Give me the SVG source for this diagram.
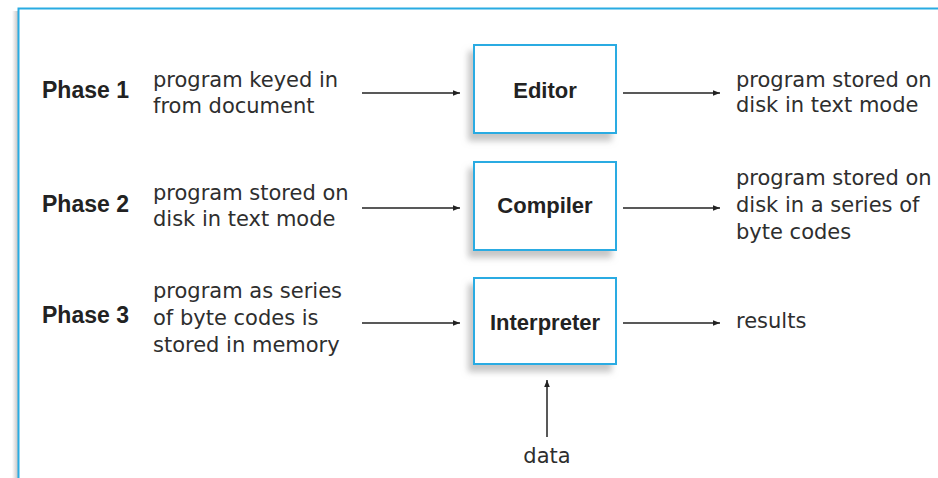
<svg xmlns="http://www.w3.org/2000/svg" width="938" height="478" viewBox="0 0 938 478">
<style>
.t{font-family:"DejaVu Sans",sans-serif;font-size:21px;fill:#2e2e2e}
.b{font-family:"Liberation Sans",Arial,sans-serif;font-size:22px;font-weight:bold;fill:#222}
.p{font-size:23px}
.box{fill:#fff;stroke:#29abe2;stroke-width:2}
.c{stroke:#222;stroke-width:1.5;fill:none;marker-end:url(#ah)}
</style>
<defs>
<marker id="ah" viewBox="0 0 10 10" refX="10" refY="5" markerWidth="8" markerHeight="7" markerUnits="userSpaceOnUse" orient="auto">
<path d="M0,1 L10,5 L0,9 z" fill="#222"/>
</marker>
<filter id="sh" x="-20%" y="-20%" width="140%" height="150%">
<feDropShadow dx="-5" dy="7" stdDeviation="3" flood-color="#999" flood-opacity="0.55"/>
</filter>
<linearGradient id="fg" x1="0" x2="1" y1="0" y2="0">
<stop offset="0" stop-color="#fff"/>
<stop offset="1" stop-color="#c4c4c4"/>
</linearGradient>
</defs>
<rect width="938" height="478" fill="#fff"/>
<g id="frame">
<rect x="12" y="11" width="6" height="467" fill="url(#fg)"/>
<path d="M18.5,478 V8.5 H938" fill="none" stroke="#29abe2" stroke-width="2"/>
</g>
<g id="connectors">
<line class="c" x1="362" y1="93" x2="460" y2="93"/>
<line class="c" x1="623" y1="93" x2="720" y2="93"/>
<line class="c" x1="362" y1="208" x2="460" y2="208"/>
<line class="c" x1="623" y1="208" x2="720" y2="208"/>
<line class="c" x1="362" y1="323" x2="460" y2="323"/>
<line class="c" x1="623" y1="323" x2="720" y2="323"/>
<line class="c" x1="547" y1="437" x2="547" y2="380"/>
</g>
<g id="phase1">
<text class="b p" x="42" y="98">Phase 1</text>
<text class="t" x="153" y="87">program keyed in</text>
<text class="t" x="153" y="113">from document</text>
</g>
<g id="phase2">
<text class="b p" x="42" y="212">Phase 2</text>
<text class="t" x="153" y="200">program stored on</text>
<text class="t" x="153" y="226">disk in text mode</text>
</g>
<g id="phase3">
<text class="b p" x="42" y="323">Phase 3</text>
<text class="t" x="153" y="298">program as series</text>
<text class="t" x="153" y="325">of byte codes is</text>
<text class="t" x="153" y="352">stored in memory</text>
</g>
<g id="editor">
<rect class="box" x="474" y="45" width="142" height="88" filter="url(#sh)"/>
<text class="b" x="545" y="98" text-anchor="middle">Editor</text>
</g>
<g id="compiler">
<rect class="box" x="474" y="162" width="142" height="88" filter="url(#sh)"/>
<text class="b" x="545" y="213" text-anchor="middle">Compiler</text>
</g>
<g id="interpreter">
<rect class="box" x="474" y="278" width="142" height="86" filter="url(#sh)"/>
<text class="b" x="545" y="330" text-anchor="middle">Interpreter</text>
</g>
<g id="out1">
<text class="t" x="736" y="87">program stored on</text>
<text class="t" x="736" y="112">disk in text mode</text>
</g>
<g id="out2">
<text class="t" x="736" y="185">program stored on</text>
<text class="t" x="736" y="212">disk in a series of</text>
<text class="t" x="736" y="239">byte codes</text>
</g>
<g id="out3">
<text class="t" x="736" y="328">results</text>
</g>
<g id="data">
<text class="t" x="547" y="463" text-anchor="middle">data</text>
</g>
</svg>
